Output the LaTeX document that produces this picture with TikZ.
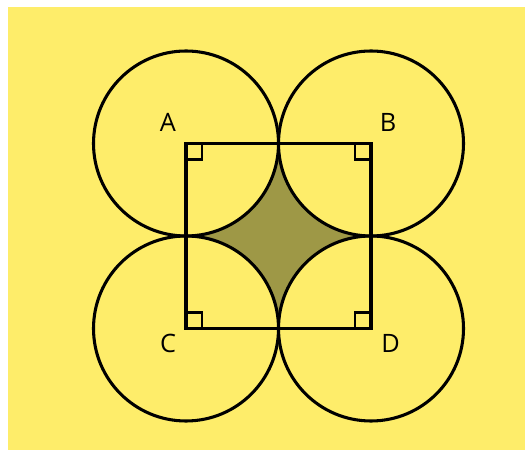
\documentclass[tikz,border=0pt]{standalone}
\usepackage{fontspec}
\setmainfont{Open Sans}
\usepackage{tikz}
\usetikzlibrary{calc}
\usepackage{xcolor}
\definecolor{paper}{RGB}{254,237,106}
\definecolor{star}{RGB}{158,152,70}
\def\rad{92.5}
\def\mk{16}

\begin{document}
\begin{tikzpicture}[x=0.75pt, y=0.75pt]
  \useasboundingbox (0,0) rectangle (525,450);
  \fill[paper] (8,0) rectangle (525,443);

  \coordinate (ptA) at (186,306.5);
  \coordinate (ptB) at (371,306.5);
  \coordinate (ptC) at (186,121.5);
  \coordinate (ptD) at (371,121.5);

  % shaded region between the four circles
  \fill[star] ($(ptA)+(\rad,0)$) arc[start angle=0, end angle=-90, radius=\rad]
    arc[start angle=90, end angle=0, radius=\rad]
    arc[start angle=180, end angle=90, radius=\rad]
    arc[start angle=270, end angle=180, radius=\rad] -- cycle;

  \draw[line width=2.3pt] (ptA) circle (\rad);
  \draw[line width=2.3pt] (ptB) circle (\rad);
  \draw[line width=2.3pt] (ptC) circle (\rad);
  \draw[line width=2.3pt] (ptD) circle (\rad);

  \draw[line width=2.3pt] (ptA) -- (ptB) -- (ptD) -- (ptC) -- cycle;

  \draw[line width=1.6pt] ($(ptA)+(0,-\mk)$) -- ++(\mk,0) -- ++(0,\mk);
  \draw[line width=1.6pt] ($(ptB)+(0,-\mk)$) -- ++(-\mk,0) -- ++(0,\mk);
  \draw[line width=1.6pt] ($(ptC)+(0,\mk)$) -- ++(\mk,0) -- ++(0,-\mk);
  \draw[line width=1.6pt] ($(ptD)+(0,\mk)$) -- ++(-\mk,0) -- ++(0,-\mk);

  \node[font=\fontsize{19}{20}\selectfont] (labA) at (168,327.5) {A};
  \node[font=\fontsize{19}{20}\selectfont] (labB) at (388,327.5) {B};
  \node[font=\fontsize{19}{20}\selectfont] (labC) at (168,107) {C};
  \node[font=\fontsize{19}{20}\selectfont] (labD) at (390.5,107) {D};
\end{tikzpicture}
\end{document}
